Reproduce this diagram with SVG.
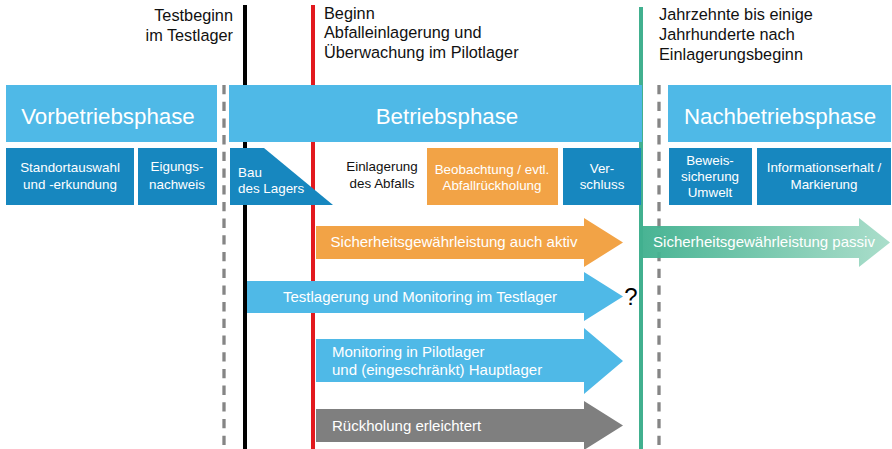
<svg xmlns="http://www.w3.org/2000/svg" width="892" height="449" viewBox="0 0 892 449">
<defs>
<linearGradient id="gp" x1="0" y1="0" x2="1" y2="0">
<stop offset="0" stop-color="#3fb08e"/>
<stop offset="1" stop-color="#a6dcc8"/>
</linearGradient>
</defs>
<style>
text{font-family:"Liberation Sans",Arial,sans-serif}
.ph{fill:#4fb9e7}
.sb{fill:#1787bf}
.pt{fill:#fff;font-size:22.3px;text-anchor:middle}
.st{fill:#fff;font-size:13.4px;text-anchor:middle}
.at{fill:#fff;font-size:15px}
.lt{fill:#111;font-size:16.3px}
.dash{stroke:#858585;stroke-width:3.3;stroke-dasharray:9.3,7.4}
</style>
<rect width="892" height="449" fill="#fff"/>
<g id="connectors">
<line class="dash" x1="224" y1="85" x2="224" y2="449"/>
<line class="dash" x1="659" y1="85" x2="659" y2="449"/>
<line x1="245" y1="5" x2="245" y2="449" stroke="#000" stroke-width="4"/>
<line x1="313" y1="5" x2="313" y2="449" stroke="#e2191e" stroke-width="4"/>
<line x1="641" y1="7" x2="641" y2="449" stroke="#41b08f" stroke-width="4"/>
</g>
<g id="phases">
<g id="vorbetrieb"><rect class="ph" x="6" y="85" width="211" height="57"/><text class="pt" x="108" y="124">Vorbetriebsphase</text></g>
<g id="betrieb"><rect class="ph" x="229" y="85" width="413" height="57"/><text class="pt" x="447" y="124">Betriebsphase</text></g>
<g id="nachbetrieb"><rect class="ph" x="668" y="85" width="223" height="57"/><text class="pt" x="780" y="124">Nachbetriebsphase</text></g>
</g>
<g id="subphases">
<g id="standort"><rect class="sb" x="6" y="148" width="128" height="57"/><text class="st" x="70" y="172">Standortauswahl</text><text class="st" x="70" y="189">und -erkundung</text></g>
<g id="eignung"><rect class="sb" x="138" y="148" width="79" height="57"/><text class="st" x="177" y="171">Eigungs-</text><text class="st" x="177" y="189">nachweis</text></g>
<g id="bau"><polygon class="sb" points="230,148 264,148 333,205 230,205"/><text class="st" x="238" y="177" style="text-anchor:start">Bau</text><text class="st" x="238" y="193" style="text-anchor:start">des Lagers</text></g>
<g id="einlagerung"><text class="st" x="382" y="171" style="fill:#111">Einlagerung</text><text class="st" x="382" y="188" style="fill:#111">des Abfalls</text></g>
<g id="beobachtung"><rect x="427" y="148" width="131" height="57" fill="#f2a346"/><text class="st" x="492" y="174">Beobachtung / evtl.</text><text class="st" x="492" y="190">Abfallrückholung</text></g>
<g id="verschluss"><rect class="sb" x="563" y="148" width="78" height="57"/><text class="st" x="602" y="173">Ver-</text><text class="st" x="602" y="189">schluss</text></g>
<g id="beweis"><rect class="sb" x="669" y="148" width="83" height="57"/><text class="st" x="710" y="165">Beweis-</text><text class="st" x="710" y="181">sicherung</text><text class="st" x="710" y="197">Umwelt</text></g>
<g id="info"><rect class="sb" x="757" y="148" width="134" height="57"/><text class="st" x="824" y="172">Informationserhalt /</text><text class="st" x="824" y="189">Markierung</text></g>
</g>
<g id="arrows">
<g id="aktiv"><polygon fill="#f2a346" points="316,226 584,226 584,218 623,242.5 584,267 584,259 316,259"/><text class="at" x="454" y="247" text-anchor="middle">Sicherheitsgewährleistung auch aktiv</text></g>
<g id="testlager"><polygon fill="#4fb9e7" points="247,281 584,281 584,272 623,296.5 584,321 584,313 247,313"/><text class="at" x="420" y="302" text-anchor="middle">Testlagerung und Monitoring im Testlager</text><text x="631" y="305" font-size="24" fill="#000" text-anchor="middle">?</text></g>
<g id="monitoring"><polygon fill="#4fb9e7" points="316,339 584,339 584,328 623,361 584,394 584,382 316,382"/><text class="at" x="332" y="357">Monitoring in Pilotlager</text><text class="at" x="332" y="375">und (eingeschränkt) Hauptlager</text></g>
<g id="rueckholung"><polygon fill="#7f7f7f" points="316,409 584,409 584,401 623,425.5 584,450 584,442 316,442"/><text class="at" x="332" y="431">Rückholung erleichtert</text></g>
<g id="passiv"><polygon fill="url(#gp)" fill-opacity="0.95" points="643,226 859,226 859,218 890,242.5 859,267 859,258 643,258"/><text class="at" x="764" y="247" text-anchor="middle">Sicherheitsgewährleistung passiv</text></g>
</g>
<g id="labels">
<text class="lt" x="233" y="21" text-anchor="end">Testbeginn</text>
<text class="lt" x="233" y="41" text-anchor="end">im Testlager</text>
<text class="lt" x="324" y="19">Beginn</text>
<text class="lt" x="324" y="38">Abfalleinlagerung und</text>
<text class="lt" x="324" y="58">Überwachung im Pilotlager</text>
<text class="lt" x="659" y="20">Jahrzehnte bis einige</text>
<text class="lt" x="659" y="40">Jahrhunderte nach</text>
<text class="lt" x="659" y="60">Einlagerungsbeginn</text>
</g>
</svg>
